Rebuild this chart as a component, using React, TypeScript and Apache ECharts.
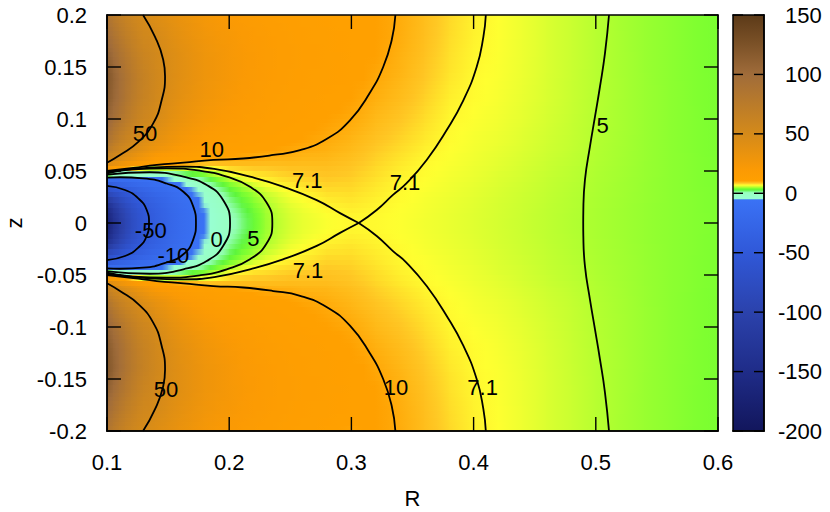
import React, { useEffect, useRef } from "react";
import * as echarts from "echarts";

const FONT = "'Liberation Sans', Arial, sans-serif";
const FONT_SIZE = 22;

// axis ticks
const xTicks = [0.1, 0.2, 0.3, 0.4, 0.5, 0.6];
const zTicks = [-0.2, -0.15, -0.1, -0.05, 0, 0.05, 0.1, 0.15, 0.2];
const barTicks = [-200, -150, -100, -50, 0, 50, 100, 150];

// field sample positions (upper half; the figure is mirror-symmetric in z)
const columnR = [
  0.1, 0.105, 0.11, 0.115, 0.12, 0.125, 0.13, 0.135, 0.14, 0.15, 0.16, 0.17, 0.18, 0.19, 0.2, 0.21, 0.22, 0.23, 0.24,
  0.25, 0.26, 0.28, 0.3, 0.32, 0.34, 0.36, 0.38, 0.4, 0.42, 0.44, 0.46, 0.48, 0.5, 0.52, 0.54, 0.56, 0.58, 0.6,
];
const rowZ = [
  0, 0.005, 0.01, 0.015, 0.02, 0.025, 0.03, 0.035, 0.04, 0.045, 0.05, 0.055, 0.06, 0.07, 0.08, 0.1, 0.12, 0.14, 0.16,
  0.18, 0.2,
];
// one list per R, one value per z in rowZ
const fieldByR = [
  [-170, -168, -160, -150, -130, -105, -78, -52, -27, -4, 10, 32, 55, 75, 90, 108, 118, 122, 112, 98, 85],
  [-140, -138, -132, -122, -108, -88, -67, -47, -24, -7, 8, 26, 48, 64, 78, 96, 106, 110, 100, 88, 76],
  [-115, -113, -108, -100, -90, -75, -58, -42, -22, -8, 5.8, 22, 42, 57, 68, 86, 96, 98, 90, 79, 68],
  [-95, -93, -89, -83, -74, -62, -50, -36, -20, -8.5, 4, 18, 36, 51, 61, 77, 86, 88, 81, 71, 62],
  [-78, -77, -74, -69, -62, -53, -43, -31, -17, -8.5, 2.5, 15, 31, 47, 56, 69, 77, 79, 73, 65, 57],
  [-65, -64, -62, -58, -52, -45, -37, -27, -15, -8.5, 1.5, 13, 26, 42, 51, 62, 69, 71, 66, 59, 53],
  [-55, -54, -53, -51, -46, -40, -32, -23, -13, -8, 1.2, 11, 23, 37, 46, 57, 63, 65, 60, 54, 49.5],
  [-48, -47, -46, -44, -40, -34, -27, -20, -11.5, -7, 1, 9.5, 20, 32, 43, 54, 59, 60, 57, 53, 46],
  [-40, -40, -39, -37, -34, -29, -23, -17, -10, -5.5, 1.5, 9, 15, 29, 38, 48.5, 54, 55, 53, 49.5, 43],
  [-28, -28, -27, -26, -24, -21, -17, -12.5, -7.5, -2.5, 3, 8, 13, 24, 31, 40, 45, 47, 46, 43, 38],
  [-18, -18, -17.5, -16.5, -15, -13, -11, -7.5, -4.5, -0.5, 3.4, 7.7, 12, 19, 25, 33, 38, 40, 40, 37, 33],
  [-11, -11, -10.8, -10.2, -9.2, -8, -6.3, -4, -1.5, 1.5, 4.5, 7.6, 10.8, 16, 21, 28, 33, 35, 35, 32, 29],
  [-6, -5.9, -5.6, -5, -4.3, -3.3, -2.2, -1, 0.5, 2.7, 5.1, 7.4, 10, 14.5, 18, 24, 28, 30, 30, 28, 25],
  [-3, -2.9, -2.6, -2.1, -1.5, -0.8, 0, 1.2, 2.8, 4.5, 6.1, 7.9, 9.8, 12.5, 15.5, 21, 25, 27, 27, 25, 22],
  [-0.2, -0.1, 0.2, 0.6, 1.1, 1.7, 2.5, 3.4, 4.5, 5.7, 7.3, 8.4, 9.7, 11.5, 14, 18.5, 22, 24, 24, 23, 20],
  [1.5, 1.6, 1.9, 2.3, 2.8, 3.3, 3.9, 4.6, 5.4, 6.8, 7.7, 8.6, 9.6, 11, 12.8, 16.5, 19.5, 21, 21.5, 20.5, 18],
  [3.2, 3.25, 3.4, 3.7, 4.1, 4.4, 4.8, 5.5, 6.4, 7.4, 8, 8.7, 9.5, 10.7, 12, 15, 17.5, 19, 19.5, 18.5, 16.5],
  [4.6, 4.6, 4.7, 4.8, 5, 5.3, 5.7, 6.3, 7, 7.6, 8.1, 8.7, 9.4, 10.4, 11.3, 13.5, 15.5, 17, 17.5, 16.8, 15],
  [5.3, 5.3, 5.4, 5.5, 5.7, 5.95, 6.3, 6.9, 7.4, 7.9, 8.3, 8.8, 9.3, 10.3, 11, 12.5, 14.3, 15.5, 16, 15.3, 14],
  [5.9, 5.9, 6, 6.1, 6.3, 6.6, 6.9, 7.3, 7.7, 8.1, 8.5, 8.9, 9.3, 10.1, 10.7, 11.8, 13.2, 14.3, 14.8, 14.2, 13],
  [6.3, 6.3, 6.35, 6.5, 6.7, 6.95, 7.25, 7.55, 7.9, 8.2, 8.55, 8.9, 9.2, 9.85, 10.4, 11.3, 12.5, 13.4, 13.9, 13.4, 12.3],
  [6.8, 6.8, 6.9, 7.15, 7.35, 7.55, 7.8, 8.05, 8.25, 8.5, 8.7, 8.9, 9.15, 9.6, 9.97, 10.5, 11.2, 12, 12.3, 12, 11],
  [7.08, 7.12, 7.25, 7.4, 7.55, 7.7, 7.85, 8, 8.15, 8.3, 8.45, 8.6, 8.75, 9.1, 9.4, 10, 10.5, 11, 11.2, 10.9, 10.3],
  [7.05, 7.05, 7.1, 7.15, 7.25, 7.35, 7.45, 7.55, 7.65, 7.8, 7.9, 8, 8.15, 8.4, 8.7, 9.2, 9.7, 10.1, 10.5, 10.7, 10.6],
  [6.85, 6.85, 6.87, 6.9, 6.95, 7, 7.04, 7.08, 7.15, 7.25, 7.35, 7.45, 7.6, 7.85, 8.1, 8.55, 9, 9.35, 9.6, 9.8, 9.85],
  [6.6, 6.6, 6.62, 6.65, 6.68, 6.72, 6.78, 6.84, 6.9, 6.95, 7, 7.05, 7.1, 7.3, 7.5, 7.85, 8.2, 8.5, 8.75, 8.9, 8.95],
  [6.35, 6.35, 6.37, 6.39, 6.42, 6.46, 6.5, 6.55, 6.6, 6.65, 6.7, 6.75, 6.8, 6.9, 7, 7.13, 7.35, 7.6, 7.75, 7.9, 8],
  [6.1, 6.1, 6.12, 6.14, 6.16, 6.2, 6.23, 6.27, 6.32, 6.37, 6.42, 6.47, 6.52, 6.6, 6.68, 6.85, 7, 7.06, 7.17, 7.25, 7.3],
  [5.85, 5.85, 5.87, 5.88, 5.9, 5.93, 5.96, 5.99, 6.03, 6.07, 6.12, 6.17, 6.22, 6.32, 6.42, 6.58, 6.7, 6.78, 6.83, 6.87, 6.9],
  [5.6, 5.6, 5.62, 5.63, 5.65, 5.67, 5.7, 5.73, 5.77, 5.81, 5.85, 5.89, 5.93, 6.02, 6.1, 6.23, 6.33, 6.4, 6.43, 6.45, 6.45],
  [5.35, 5.35, 5.36, 5.37, 5.39, 5.41, 5.43, 5.46, 5.49, 5.52, 5.56, 5.6, 5.64, 5.72, 5.79, 5.88, 5.95, 5.98, 6, 6, 6],
  [5.1, 5.1, 5.11, 5.12, 5.14, 5.15, 5.17, 5.2, 5.22, 5.25, 5.28, 5.31, 5.35, 5.41, 5.47, 5.52, 5.56, 5.58, 5.6, 5.6, 5.6],
  [4.9, 4.9, 4.91, 4.92, 4.93, 4.94, 4.96, 4.97, 4.99, 5.01, 5.03, 5.05, 5.07, 5.1, 5.13, 5.16, 5.18, 5.2, 5.2, 5.2, 5.2],
  [4.7, 4.7, 4.71, 4.71, 4.72, 4.73, 4.74, 4.75, 4.76, 4.77, 4.79, 4.8, 4.81, 4.83, 4.85, 4.87, 4.88, 4.88, 4.87, 4.86, 4.85],
  [4.5, 4.5, 4.5, 4.5, 4.51, 4.51, 4.52, 4.52, 4.53, 4.53, 4.54, 4.54, 4.55, 4.56, 4.57, 4.58, 4.58, 4.57, 4.56, 4.55, 4.55],
  [4.3, 4.3, 4.3, 4.3, 4.3, 4.3, 4.31, 4.31, 4.31, 4.31, 4.32, 4.32, 4.32, 4.32, 4.32, 4.32, 4.32, 4.31, 4.31, 4.3, 4.3],
  [4.15, 4.15, 4.15, 4.14, 4.14, 4.14, 4.13, 4.13, 4.13, 4.13, 4.12, 4.12, 4.12, 4.11, 4.11, 4.1, 4.09, 4.08, 4.07, 4.06, 4.05],
  [4, 4, 4, 3.99, 3.99, 3.98, 3.98, 3.97, 3.97, 3.96, 3.96, 3.95, 3.95, 3.94, 3.93, 3.92, 3.9, 3.89, 3.87, 3.86, 3.85],
];

// colour scale
const paletteValues = [-200, -150, -100, -50, -5.5, -4.5, 0.5, 2.8, 4, 5.2, 6.2, 6.9, 8.5, 10.5, 20, 50, 100, 125, 150];
const paletteColors = [
  "#12165c", "#1f2c88", "#2b42ac", "#3058d8", "#3a72f5", "#98ffd2", "#98ffc0", "#5cf53c", "#7eff30",
  "#b8ff30", "#e4ff30", "#ffff30", "#ffc624", "#ffa000", "#fb9a04", "#d48a1a", "#a06c3a", "#7c5228", "#5c3a18",
];

// contour lines: [R, z] in the upper half
const contour50Upper = [
  [0.1, 0.058], [0.1106, 0.0654], [0.1256, 0.078], [0.1379, 0.096], [0.1447, 0.118], [0.1475, 0.141],
  [0.146, 0.157], [0.1393, 0.179], [0.1295, 0.2],
];
const contour10Upper = [
  [0.1, 0.05], [0.1215, 0.053], [0.1407, 0.0558], [0.1625, 0.058], [0.187, 0.0606], [0.2115, 0.062], [0.236, 0.0654],
  [0.258, 0.07], [0.28, 0.081], [0.299, 0.099], [0.315, 0.125], [0.326, 0.15], [0.333, 0.176], [0.336, 0.2],
];
const contour71LensUpper = [
  [0.1, 0.0488], [0.135, 0.0532], [0.1625, 0.0542], [0.19, 0.0516], [0.217, 0.0445], [0.244, 0.035], [0.2716, 0.022],
  [0.2907, 0.0095], [0.306, 0],
];
const contour71OuterUpper = [
  [0.306, 0], [0.3207, 0.0125], [0.334, 0.027], [0.345, 0.038], [0.3616, 0.0606], [0.378, 0.0894], [0.3916, 0.118],
  [0.4025, 0.15], [0.408, 0.179], [0.41, 0.2],
];
const contour5LobeUpper = [
  [0.1, 0.0478], [0.1213, 0.0516], [0.1488, 0.0525], [0.176, 0.0503], [0.198, 0.0445], [0.217, 0.0349], [0.2307, 0.0194],
  [0.2353, 0],
];
const contour0Upper = [
  [0.1, 0.0465], [0.135, 0.0488], [0.1625, 0.0445], [0.1816, 0.0365], [0.195, 0.0221], [0.2007, 0],
];
const contourM10Upper = [
  [0.1, 0.0437], [0.1106, 0.044], [0.1295, 0.043], [0.1488, 0.038], [0.1625, 0.03], [0.1706, 0.0157], [0.1728, 0],
];
const contourM50Upper = [
  [0.1, 0.0356], [0.1147, 0.0317], [0.1256, 0.0237], [0.1325, 0.0125], [0.1344, 0],
];
const contour5OuterUpper = [
  [0.5108, 0.2], [0.5075, 0.163], [0.5034, 0.131], [0.4993, 0.102], [0.4952, 0.0734], [0.4911, 0.0413], [0.4898, 0.0125],
  [0.4897, 0],
];

const contourLabelText = ["50", "10", "7.1", "7.1", "-50", "-10", "0", "5", "7.1", "50", "10", "7.1", "5"];
const contourLabelR = [0.131, 0.1857, 0.2639, 0.3439, 0.1358, 0.1543, 0.1898, 0.2197, 0.2645, 0.1483, 0.3365, 0.4074, 0.5056];
const contourLabelZ = [0.0865, 0.0702, 0.0413, 0.0385, -0.0074, -0.0308, -0.0163, -0.0147, -0.0452, -0.1599, -0.158, -0.158, 0.0942];

const hex = (c: string) => [1, 3, 5].map((i) => parseInt(c.slice(i, i + 2), 16));
const colorOf = (v: number) => {
  const n = paletteValues.length;
  if (v <= paletteValues[0]) return paletteColors[0];
  if (v >= paletteValues[n - 1]) return paletteColors[n - 1];
  let i = 0;
  while (paletteValues[i + 1] < v) i++;
  const t = (v - paletteValues[i]) / (paletteValues[i + 1] - paletteValues[i]);
  const a = hex(paletteColors[i]);
  const b = hex(paletteColors[i + 1]);
  return `rgb(${a.map((x, k) => Math.round(x + (b[k] - x) * t)).join(",")})`;
};

const mirrorPts = (pts: number[][]) => pts.map(([r, z]) => [r, -z]);
const lobe = (pts: number[][]) => [...pts, ...mirrorPts(pts).reverse().slice(1)];

// rows covering the whole z range: lower half, centre, upper half
const allZ = [...rowZ.slice(1).reverse().map((z) => -z), ...rowZ];
const rowIndex = [...rowZ.slice(1).map((_, i) => i + 1).reverse(), ...rowZ.map((_, i) => i)];

// one cell between two neighbouring R and two neighbouring z, with its four corner values
const cells: number[][] = [];
for (let c = 0; c < columnR.length - 1; c++) {
  for (let r = 0; r < allZ.length - 1; r++) {
    cells.push([
      columnR[c], columnR[c + 1], allZ[r], allZ[r + 1],
      fieldByR[c][rowIndex[r]], fieldByR[c + 1][rowIndex[r]],
      fieldByR[c][rowIndex[r + 1]], fieldByR[c + 1][rowIndex[r + 1]],
    ]);
  }
}

const contourSeries = (pts: number[][]) => ({
  type: "line",
  xAxisIndex: 0,
  yAxisIndex: 0,
  data: pts,
  smooth: 0.5,
  showSymbol: false,
  symbol: "none",
  silent: true,
  z: 4,
  lineStyle: { color: "#000", width: 1.8 },
});

const axisBase = {
  type: "value",
  z: 10,
  axisLine: { show: true, onZero: false, lineStyle: { color: "#000", width: 1.5 } },
  axisTick: { show: false },
  splitLine: { show: false },
  axisLabel: { show: false },
};
const labelStyle = { show: true, color: "#000", fontFamily: FONT, fontSize: FONT_SIZE };
const STRIP_PX = 4;
const MAIN_TICK_PX = 14;
const BAR_TICK_PX = 10;
const xMain = { min: 0.1, max: 0.6, interval: 0.1 };
const yMain = { min: -0.2, max: 0.2, interval: 0.05 };
const yBar = { min: -200, max: 150, interval: 50 };
const grids = [
  { left: 107, top: 15, width: 611, height: 416, outerBoundsMode: "none" },
  { left: 733, top: 15, width: 31, height: 416, outerBoundsMode: "none" },
];

// inward ticks, drawn through the axes' scales
const tickSeries = (xAxisIndex: number, yAxisIndex: number, data: number[][], len: number) => ({
  type: "custom",
  xAxisIndex,
  yAxisIndex,
  data,
  encode: { x: 0, y: 1 },
  silent: true,
  clip: false,
  z: 8,
  renderItem: (_: any, api: any) => {
    const p = api.coord([api.value(0), api.value(1)]);
    return {
      type: "line",
      shape: { x1: p[0], y1: p[1], x2: p[0] + api.value(2) * len, y2: p[1] + api.value(3) * len },
      style: { stroke: "#000", lineWidth: 1.4, fill: "none" },
    };
  },
});

export default function App() {
  const ref = useRef<HTMLDivElement>(null);
  const overlayRef = useRef<HTMLDivElement>(null);
  useEffect(() => {
    const chart = echarts.init(ref.current!, null, { renderer: "svg" });
    chart.setOption({
      animation: false,
      backgroundColor: "#fff",
      grid: grids,
      xAxis: [
        {
          ...axisBase, ...xMain, gridIndex: 0, position: "bottom",
          axisLabel: { ...labelStyle, margin: 20 },
          name: "R", nameLocation: "center", nameGap: 56,
          nameTextStyle: { color: "#000", fontFamily: FONT, fontSize: FONT_SIZE },
        },
        { ...axisBase, min: 0, max: 1, gridIndex: 1, position: "bottom" },
      ],
      yAxis: [
        {
          ...axisBase, ...yMain, gridIndex: 0, position: "left",
          axisLabel: { ...labelStyle, margin: 20 },
          name: "z", nameLocation: "center", nameGap: 81, nameRotate: 90,
          nameTextStyle: { color: "#000", fontFamily: FONT, fontSize: FONT_SIZE },
        },
        {
          ...axisBase, ...yBar, gridIndex: 1, position: "right",
          axisLabel: {
            ...labelStyle,
            align: "left",
            margin: 14,
            formatter: (v: number) => (v < 0 ? `{n|${v}}` : `{p|${v}}`),
            rich: {
              n: { color: "#000", fontFamily: FONT, fontSize: FONT_SIZE },
              p: { color: "#000", fontFamily: FONT, fontSize: FONT_SIZE, padding: [0, 0, 0, 7] },
            },
          },
        },
      ],
      series: [
        {
          type: "custom",
          xAxisIndex: 0,
          yAxisIndex: 0,
          data: cells,
          encode: { x: [0, 1], y: [2, 3] },
          silent: true,
          clip: true,
          z: 1,
          renderItem: (_: any, api: any) => {
            const a = api.coord([api.value(0), api.value(3)]);
            const b = api.coord([api.value(1), api.value(2)]);
            const x = Math.floor(a[0]);
            const w = Math.ceil(b[0]) - x;
            const top = a[1];
            const bottom = b[1];
            const strips = Math.max(1, Math.round((bottom - top) / STRIP_PX));
            const [lb, rb, lt, rt] = [api.value(4), api.value(5), api.value(6), api.value(7)];
            const children = [];
            for (let s = 0; s < strips; s++) {
              const t = (s + 0.5) / strips;
              const vL = lt + (lb - lt) * t;
              const vR = rt + (rb - rt) * t;
              const y0 = Math.floor(top + ((bottom - top) * s) / strips);
              const y1 = Math.ceil(top + ((bottom - top) * (s + 1)) / strips);
              children.push({
                type: "rect",
                shape: { x, y: y0, width: w, height: y1 - y0 },
                style: {
                  fill: {
                    type: "linear", x: 0, y: 0, x2: 1, y2: 0,
                    colorStops: [
                      { offset: 0, color: colorOf(vL) },
                      { offset: 0.5, color: colorOf((vL + vR) / 2) },
                      { offset: 1, color: colorOf(vR) },
                    ],
                  },
                },
              });
            }
            return { type: "group", children };
          },
        },
        {
          type: "custom",
          xAxisIndex: 1,
          yAxisIndex: 1,
          data: [[0, 1, yBar.min, yBar.max]],
          encode: { x: [0, 1], y: [2, 3] },
          silent: true,
          z: 1,
          renderItem: (_: any, api: any) => {
            const a = api.coord([api.value(0), api.value(3)]);
            const b = api.coord([api.value(1), api.value(2)]);
            const span = yBar.max - yBar.min;
            return {
              type: "rect",
              shape: { x: a[0], y: a[1], width: b[0] - a[0], height: b[1] - a[1] },
              style: {
                fill: {
                  type: "linear", x: 0, y: 0, x2: 0, y2: 1,
                  colorStops: paletteValues
                    .map((v, i) => ({ offset: (yBar.max - v) / span, color: paletteColors[i] }))
                    .reverse(),
                },
              },
            };
          },
        },
        contourSeries(contour50Upper),
        contourSeries(mirrorPts(contour50Upper)),
        contourSeries(contour10Upper),
        contourSeries(mirrorPts(contour10Upper)),
        contourSeries(contour71LensUpper),
        contourSeries(mirrorPts(contour71LensUpper)),
        contourSeries(contour71OuterUpper),
        contourSeries(mirrorPts(contour71OuterUpper)),
        contourSeries(lobe(contour5LobeUpper)),
        contourSeries(lobe(contour0Upper)),
        contourSeries(lobe(contourM10Upper)),
        contourSeries(lobe(contourM50Upper)),
        contourSeries(lobe(contour5OuterUpper)),
        {
          type: "scatter",
          xAxisIndex: 0,
          yAxisIndex: 0,
          silent: true,
          z: 6,
          symbolSize: 1,
          itemStyle: { color: "transparent", opacity: 1 },
          data: contourLabelText.map((t, i) => ({ name: t, value: [contourLabelR[i], contourLabelZ[i]] })),
          label: {
            show: true, position: "inside", align: "center", verticalAlign: "middle",
            formatter: "{b}", color: "#000", opacity: 1, fontFamily: FONT, fontSize: FONT_SIZE,
          },
        },
      ],
    });

    // a second, transparent chart on top of the first carries the frames and the inward ticks
    const overlay = echarts.init(overlayRef.current!, null, { renderer: "svg" });
    const mainTicks = [
      ...xTicks.map((x) => [x, yMain.min, 0, -1]),
      ...xTicks.map((x) => [x, yMain.max, 0, 1]),
      ...zTicks.map((z) => [xMain.min, z, 1, 0]),
      ...zTicks.map((z) => [xMain.max, z, -1, 0]),
    ];
    const colorbarTicks = [...barTicks.map((v) => [0, v, 1, 0]), ...barTicks.map((v) => [1, v, -1, 0])];
    overlay.setOption({
      animation: false,
      backgroundColor: "transparent",
      grid: grids,
      xAxis: [
        { ...axisBase, ...xMain, gridIndex: 0, position: "bottom" },
        { ...axisBase, ...xMain, gridIndex: 0, position: "top" },
        { ...axisBase, min: 0, max: 1, gridIndex: 1, position: "bottom" },
        { ...axisBase, min: 0, max: 1, gridIndex: 1, position: "top" },
      ],
      yAxis: [
        { ...axisBase, ...yMain, gridIndex: 0, position: "left" },
        { ...axisBase, ...yMain, gridIndex: 0, position: "right" },
        { ...axisBase, ...yBar, gridIndex: 1, position: "right" },
        { ...axisBase, ...yBar, gridIndex: 1, position: "left" },
      ],
      series: [tickSeries(0, 0, mainTicks, MAIN_TICK_PX), tickSeries(2, 2, colorbarTicks, BAR_TICK_PX)],
    });
    return () => {
      chart.dispose();
      overlay.dispose();
    };
  }, []);
  const layer = { position: "absolute" as const, left: 0, top: 0, width: 830, height: 512 };
  return (
    <div>
      <div ref={ref} style={layer} />
      <div ref={overlayRef} style={{ ...layer, pointerEvents: "none" }} />
    </div>
  );
}
